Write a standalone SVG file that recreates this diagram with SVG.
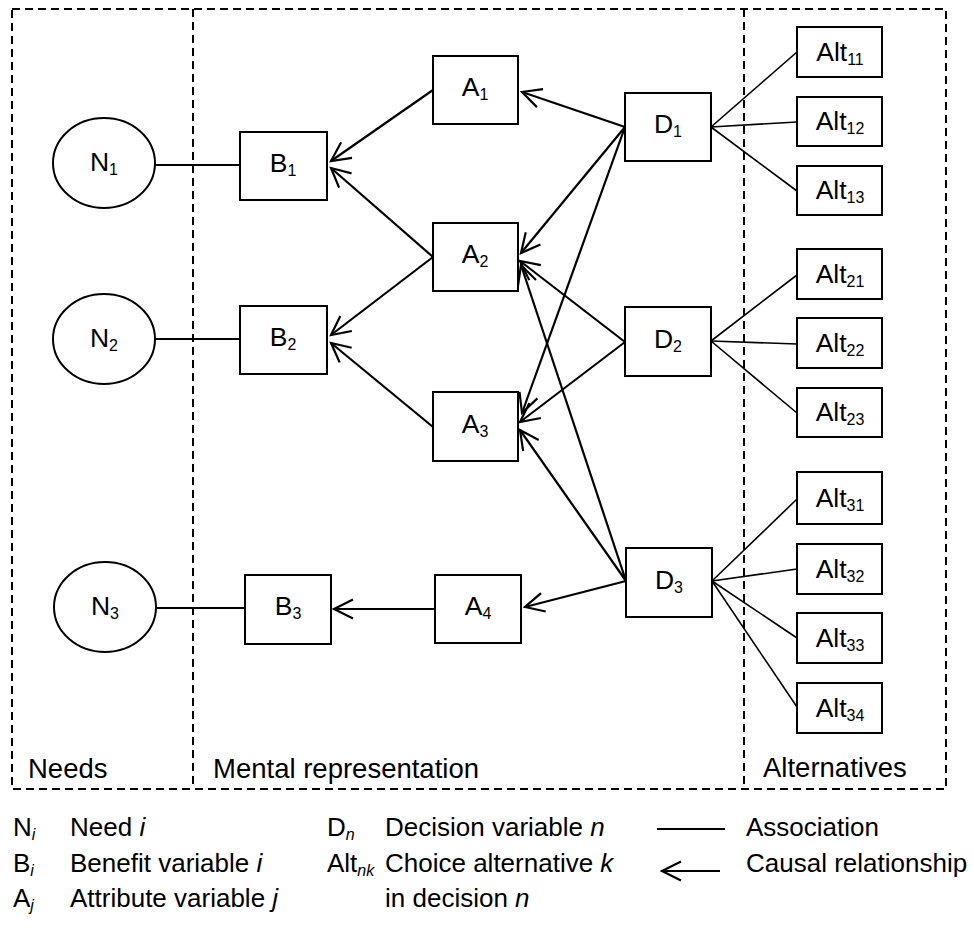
<svg xmlns="http://www.w3.org/2000/svg" width="974" height="929" viewBox="0 0 974 929">
<style>
text{font-family:"Liberation Sans",Arial,sans-serif;font-size:26px;fill:#000}
.big{font-size:27.5px}
.lbl{text-anchor:middle;font-size:26.5px}
.sub{font-size:16px}
.box{fill:#fff;stroke:#000;stroke-width:2}
.dash{fill:none;stroke:#000;stroke-width:2;stroke-dasharray:8 5}
.assoc{stroke:#000;stroke-width:2;fill:none}
.alt{stroke:#000;stroke-width:1.6;fill:none}
.cause{stroke:#000;stroke-width:2.2;fill:none;marker-end:url(#open)}
</style>
<defs>
<marker id="open" viewBox="-22 -12 24 24" refX="0" refY="0" markerWidth="24" markerHeight="24" markerUnits="userSpaceOnUse" orient="auto" overflow="visible">
<path d="M-19,-9.5 L0,0 L-19,9.5" fill="none" stroke="#000" stroke-width="2.2"/>
</marker>
</defs>
<rect width="974" height="929" fill="#fff"/>
<g id="regions">
<rect class="dash" x="12" y="9" width="934" height="780"/>
<line class="dash" x1="193" y1="9" x2="193" y2="789"/>
<line class="dash" x1="744" y1="9" x2="744" y2="789"/>
<text class="big" x="28" y="778">Needs</text>
<text class="big" x="213" y="778">Mental representation</text>
<text class="big" x="763" y="777">Alternatives</text>
</g>
<g id="connectors">
<line class="assoc" x1="155" y1="165" x2="240" y2="165"/>
<line class="assoc" x1="155" y1="339" x2="240" y2="339"/>
<line class="assoc" x1="157" y1="608" x2="245" y2="608"/>
<line class="cause" x1="433" y1="90" x2="331" y2="161"/>
<line class="cause" x1="433" y1="257" x2="331" y2="168"/>
<line class="cause" x1="433" y1="257" x2="331" y2="335"/>
<line class="cause" x1="433" y1="427" x2="331" y2="343"/>
<line class="cause" x1="435" y1="609" x2="334" y2="609"/>
<line class="cause" x1="625" y1="127" x2="522" y2="92"/>
<line class="cause" x1="625" y1="127" x2="521" y2="253"/>
<line class="cause" x1="625" y1="127" x2="522" y2="413"/>
<line class="cause" x1="625" y1="342" x2="520" y2="261"/>
<line class="cause" x1="625" y1="342" x2="520" y2="422"/>
<line class="cause" x1="626" y1="581" x2="521" y2="265"/>
<line class="cause" x1="626" y1="581" x2="520" y2="430"/>
<line class="cause" x1="626" y1="581" x2="525" y2="607"/>
<line class="alt" x1="711" y1="127" x2="797" y2="52"/>
<line class="alt" x1="711" y1="127" x2="797" y2="122"/>
<line class="alt" x1="711" y1="127" x2="797" y2="191"/>
<line class="alt" x1="711" y1="341" x2="797" y2="275"/>
<line class="alt" x1="711" y1="341" x2="797" y2="344"/>
<line class="alt" x1="711" y1="341" x2="797" y2="413"/>
<line class="alt" x1="712" y1="581" x2="797" y2="499"/>
<line class="alt" x1="712" y1="581" x2="797" y2="569"/>
<line class="alt" x1="712" y1="581" x2="797" y2="638"/>
<line class="alt" x1="712" y1="581" x2="797" y2="707"/>
</g>
<g id="N1"><ellipse class="box" cx="104" cy="163" rx="51" ry="45"/><text class="lbl" x="104" y="171">N<tspan class="sub" dy="4">1</tspan></text></g>
<g id="N2"><ellipse class="box" cx="104" cy="339" rx="51" ry="45"/><text class="lbl" x="104" y="347">N<tspan class="sub" dy="4">2</tspan></text></g>
<g id="N3"><ellipse class="box" cx="105" cy="607" rx="51" ry="45"/><text class="lbl" x="105" y="615">N<tspan class="sub" dy="4">3</tspan></text></g>
<g id="B1"><rect class="box" x="240" y="132" width="87" height="68"/><text class="lbl" x="283" y="172">B<tspan class="sub" dy="4">1</tspan></text></g>
<g id="B2"><rect class="box" x="240" y="306" width="87" height="68"/><text class="lbl" x="283" y="346">B<tspan class="sub" dy="4">2</tspan></text></g>
<g id="B3"><rect class="box" x="245" y="575" width="86" height="69"/><text class="lbl" x="288" y="615">B<tspan class="sub" dy="4">3</tspan></text></g>
<g id="A1"><rect class="box" x="433" y="56" width="85" height="68"/><text class="lbl" x="475" y="96">A<tspan class="sub" dy="4">1</tspan></text></g>
<g id="A2"><rect class="box" x="433" y="223" width="85" height="68"/><text class="lbl" x="475" y="263">A<tspan class="sub" dy="4">2</tspan></text></g>
<g id="A3"><rect class="box" x="433" y="392" width="85" height="69"/><text class="lbl" x="475" y="433">A<tspan class="sub" dy="4">3</tspan></text></g>
<g id="A4"><rect class="box" x="435" y="575" width="86" height="68"/><text class="lbl" x="478" y="615">A<tspan class="sub" dy="4">4</tspan></text></g>
<g id="D1"><rect class="box" x="625" y="93" width="86" height="68"/><text class="lbl" x="668" y="133">D<tspan class="sub" dy="4">1</tspan></text></g>
<g id="D2"><rect class="box" x="625" y="307" width="86" height="69"/><text class="lbl" x="668" y="348">D<tspan class="sub" dy="4">2</tspan></text></g>
<g id="D3"><rect class="box" x="626" y="548" width="86" height="69"/><text class="lbl" x="669" y="589">D<tspan class="sub" dy="4">3</tspan></text></g>
<g id="Alt11"><rect class="box" x="797" y="27" width="85" height="50"/><text class="lbl" x="840" y="61">Alt<tspan class="sub" dy="4">11</tspan></text></g>
<g id="Alt12"><rect class="box" x="797" y="97" width="85" height="49"/><text class="lbl" x="840" y="130">Alt<tspan class="sub" dy="4">12</tspan></text></g>
<g id="Alt13"><rect class="box" x="797" y="166" width="85" height="49"/><text class="lbl" x="840" y="199">Alt<tspan class="sub" dy="4">13</tspan></text></g>
<g id="Alt21"><rect class="box" x="797" y="249" width="85" height="50"/><text class="lbl" x="840" y="283">Alt<tspan class="sub" dy="4">21</tspan></text></g>
<g id="Alt22"><rect class="box" x="797" y="318" width="85" height="50"/><text class="lbl" x="840" y="352">Alt<tspan class="sub" dy="4">22</tspan></text></g>
<g id="Alt23"><rect class="box" x="797" y="388" width="85" height="49"/><text class="lbl" x="840" y="421">Alt<tspan class="sub" dy="4">23</tspan></text></g>
<g id="Alt31"><rect class="box" x="797" y="472" width="85" height="52"/><text class="lbl" x="840" y="507">Alt<tspan class="sub" dy="4">31</tspan></text></g>
<g id="Alt32"><rect class="box" x="797" y="544" width="85" height="50"/><text class="lbl" x="840" y="578">Alt<tspan class="sub" dy="4">32</tspan></text></g>
<g id="Alt33"><rect class="box" x="797" y="613" width="85" height="50"/><text class="lbl" x="840" y="647">Alt<tspan class="sub" dy="4">33</tspan></text></g>
<g id="Alt34"><rect class="box" x="797" y="683" width="85" height="50"/><text class="lbl" x="840" y="717">Alt<tspan class="sub" dy="4">34</tspan></text></g>
<g id="legend">
<text x="13" y="836">N<tspan class="sub" dy="4" font-style="italic">i</tspan></text>
<text x="70" y="836">Need <tspan font-style="italic">i</tspan></text>
<text x="13" y="872">B<tspan class="sub" dy="4" font-style="italic">i</tspan></text>
<text x="70" y="872">Benefit variable <tspan font-style="italic">i</tspan></text>
<text x="13" y="907">A<tspan class="sub" dy="4" font-style="italic">j</tspan></text>
<text x="70" y="907">Attribute variable <tspan font-style="italic">j</tspan></text>
<text x="327" y="836">D<tspan class="sub" dy="4" font-style="italic">n</tspan></text>
<text x="385" y="836">Decision variable <tspan font-style="italic">n</tspan></text>
<text x="327" y="872">Alt<tspan class="sub" dy="4" font-style="italic">nk</tspan></text>
<text x="385" y="872">Choice alternative <tspan font-style="italic">k</tspan></text>
<text x="385" y="907">in decision <tspan font-style="italic">n</tspan></text>
<line class="assoc" x1="657" y1="829" x2="725" y2="829"/>
<line class="cause" x1="720" y1="871" x2="662" y2="871"/>
<text x="746" y="836">Association</text>
<text x="746" y="872">Causal relationship</text>
</g>
</svg>
